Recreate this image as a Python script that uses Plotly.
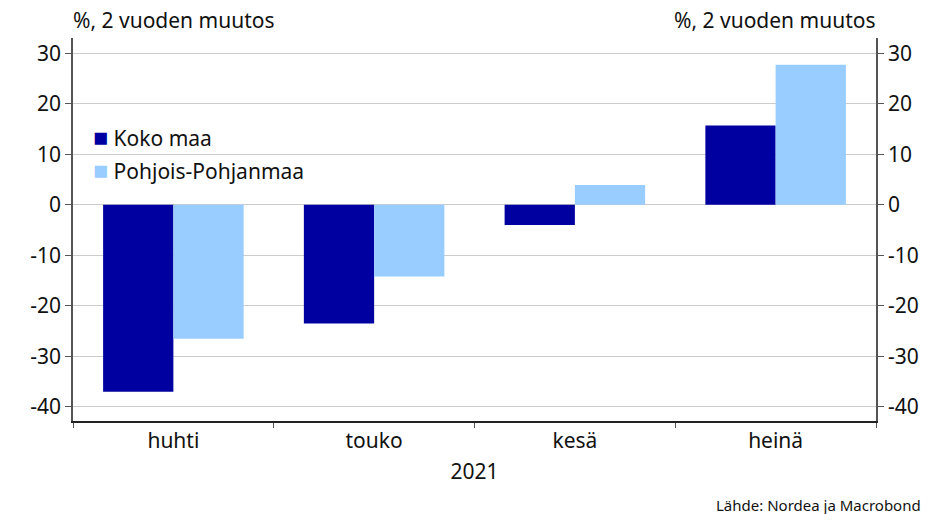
import plotly.graph_objects as go

# data
months = ["huhti", "touko", "kesä", "heinä"]
koko_maa = [-37.0, -23.5, -4.0, 15.7]
pohjois_pohjanmaa = [-26.5, -14.2, 3.9, 27.7]
series_names = ["Koko maa", "Pohjois-Pohjanmaa"]
series_colors = ["#0000A0", "#99CCFF"]

FONT = "Noto Sans, Open Sans, Arial, sans-serif"
yrange = [-42.8, 33.0]
yticks = [30, 20, 10, 0, -10, -20, -30, -40]
ylabels = [str(v) for v in yticks]  # tavallinen tavuviiva miinusmerkkinä

fig = go.Figure()
for name, vals, col in zip(series_names, [koko_maa, pohjois_pohjanmaa], series_colors):
    fig.add_trace(go.Bar(x=months, y=vals, name=name, showlegend=False,
                         marker=dict(color=col, line_width=0)))
# näkymätön jälki oikeaa akselia varten
fig.add_trace(go.Scatter(x=months, y=[0, 0, 0, 0], yaxis="y2", mode="lines",
                         line=dict(width=0), showlegend=False, hoverinfo="skip"))

fig.update_layout(
    width=929, height=514,
    margin=dict(l=73, r=53, t=38, b=93, autoexpand=False),
    paper_bgcolor="white", plot_bgcolor="white",
    font=dict(family=FONT, size=21, color="#111"),
    barmode="group", bargap=0.3, bargroupgap=0,
    xaxis=dict(showline=True, linecolor="#222", linewidth=1.5,
               ticks="outside", tickson="boundaries", ticklen=5,
               tickcolor="#555", showgrid=False, tickfont=dict(size=21),
               automargin=False,
               title=dict(text="2021", font=dict(size=21), standoff=11)),
    yaxis=dict(range=yrange, tickvals=yticks, ticktext=ylabels,
               showline=True, linecolor="#555", automargin=False,
               linewidth=1.5, ticks="outside", ticklen=6, tickcolor="#555",
               showgrid=True, gridcolor="#cccccc", gridwidth=1,
               zeroline=True, zerolinecolor="#cccccc", zerolinewidth=1,
               tickfont=dict(size=21)),
    yaxis2=dict(range=yrange, tickvals=yticks, ticktext=ylabels,
                overlaying="y", side="right", automargin=False,
                showline=True, linecolor="#555", linewidth=1.5,
                ticks="outside", ticklen=6, tickcolor="#555",
                showgrid=False, zeroline=False, tickfont=dict(size=21)),
)

# selite: värineliö + teksti
for i, (name, col) in enumerate(zip(series_names, series_colors)):
    fig.add_annotation(
        text=f"<span style='color:{col};font-size:25px'>■</span> {name}",
        xref="paper", yref="paper", x=0.022, y=0.745 - i * 0.086,
        xanchor="left", yanchor="middle", showarrow=False,
        font=dict(size=21))

fig.add_annotation(text="%, 2 vuoden muutos", xref="paper", yref="paper",
                   x=-0.003, y=1, xanchor="left", yanchor="bottom", yshift=2,
                   showarrow=False, font=dict(size=21))
fig.add_annotation(text="%, 2 vuoden muutos", xref="paper", yref="paper",
                   x=1.003, y=1, xanchor="right", yanchor="bottom", yshift=2,
                   showarrow=False, font=dict(size=21))
fig.add_annotation(text="Lähde: Nordea ja Macrobond", xref="paper", yref="paper",
                   x=1.058, y=0, xanchor="right", yanchor="top", yshift=-72,
                   showarrow=False, font=dict(size=15))

# sivun oletusreunus pois, jotta kuva alkaa vasemmasta yläkulmasta
fig.write_html("out.html", config={"displayModeBar": False},
               post_script="document.body.style.margin='0';")
